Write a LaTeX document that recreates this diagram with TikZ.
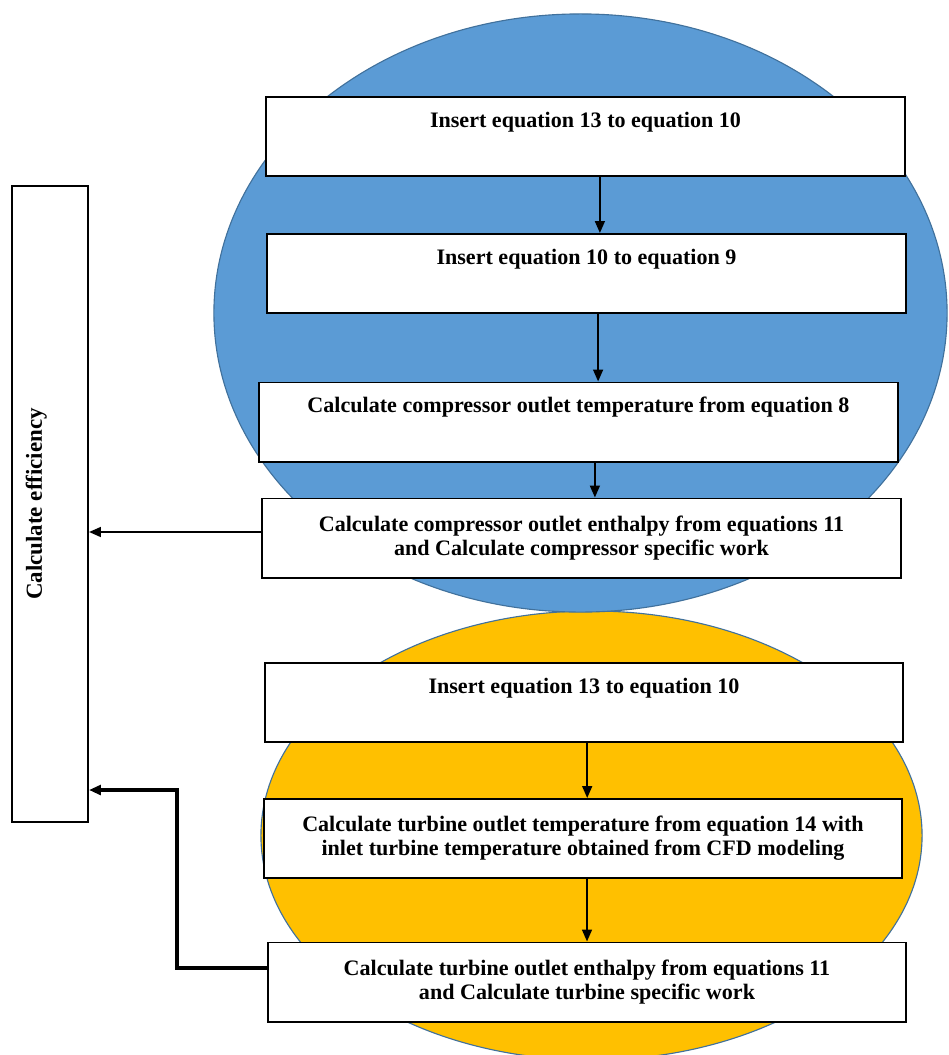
\documentclass[tikz,border=0pt]{standalone}
\usepackage{fontspec}
\setmainfont{Liberation Serif}
\usetikzlibrary{arrows.meta,positioning,calc}

\definecolor{compblue}{HTML}{5B9BD5}
\definecolor{rimblue}{HTML}{41719C}
\definecolor{turbgold}{HTML}{FFC000}

\tikzset{
  stepbox/.style={draw=black,line width=1.4pt,fill=white,inner sep=0pt,
    minimum width=15.95cm,minimum height=1.975cm,align=center,
    font=\fontsize{15.7}{17}\selectfont\bfseries},
  topline/.style={text height=0.75cm,text depth=1.225cm},
  flow/.style={-{Triangle[length=8.5pt,width=7pt]},line width=1.4pt},
}

\begin{document}
\begin{tikzpicture}[x=0.025cm,y=-0.025cm]
\useasboundingbox (0,0) rectangle (949,1055);
\clip (0,0) rectangle (949,1055);
% ---- background blobs ----
\filldraw[fill=turbgold,draw=rimblue,line width=0.8pt] (591.5,835.5) ellipse [x radius=8.2625cm,y radius=5.6125cm];
\filldraw[fill=compblue,draw=rimblue,line width=0.8pt] (580.5,313) ellipse [x radius=9.1625cm,y radius=7.475cm];
% ---- compressor side ----
\node[stepbox,topline] (a1) at (585.5,136.5) {Insert equation 13 to equation 10};
\node[stepbox,topline] (a2) at (586.5,273.5) {Insert equation 10 to equation 9};
\node[stepbox,topline] (a3) at (578.5,422) {Calculate compressor outlet temperature from equation 8};
\node[stepbox] (a4) at (581.5,538) {Calculate compressor outlet enthalpy from equations 11\\and Calculate compressor specific work};
% ---- turbine side ----
\node[stepbox,topline] (b1) at (584,702.5) {Insert equation 13 to equation 10};
\node[stepbox] (b2) at (583,838.5) {Calculate turbine outlet temperature from equation 14 with\\inlet turbine temperature obtained from CFD modeling};
\node[stepbox] (b3) at (587,982) {Calculate turbine outlet enthalpy from equations 11\\and Calculate turbine specific work};
% ---- efficiency ----
\node[stepbox,rotate=90,minimum width=15.9cm,minimum height=1.9cm,
  text height=0.75cm,text depth=1.15cm,font=\fontsize{16.3}{17}\selectfont\bfseries] (eff) at (50,504) {Calculate efficiency};
% ---- connectors ----
\draw[flow] ([xshift=0.36cm]a1.south) -- ([xshift=0.36cm]a1.south |- a2.north);
\draw[flow] ([xshift=0.29cm]a2.south) -- ([xshift=0.29cm]a2.south |- a3.north);
\draw[flow] ([xshift=0.41cm]a3.south) -- ([xshift=0.41cm]a3.south |- a4.north);
\draw[flow] ([xshift=0.08cm]b1.south) -- ([xshift=0.08cm]b1.south |- b2.north);
\draw[flow] ([xshift=0.1cm]b2.south) -- ([xshift=0.1cm]b2.south |- b3.north);
\draw[flow] ([yshift=0.15cm]a4.west) -- ([yshift=0.15cm]a4.west -| eff.south);
\coordinate (turn) at (177,790);
\draw[flow,line width=2.4pt] ([yshift=0.35cm]b3.west) -| (turn) -- (turn -| eff.south);
\end{tikzpicture}
\end{document}
